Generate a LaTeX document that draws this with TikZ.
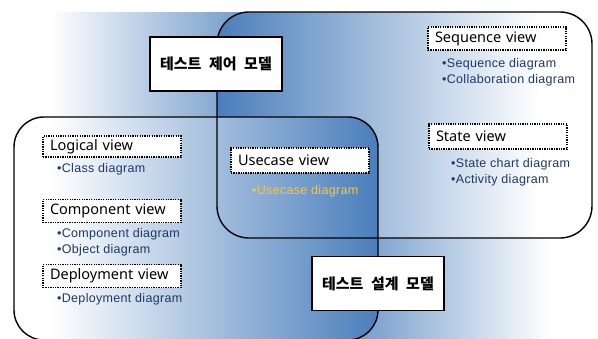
\documentclass[tikz,border=0pt]{standalone}
\usepackage{fontspec}
\setmainfont{Noto Sans}
\newfontfamily\kr[WordSpace=2.2]{Noto Sans CJK KR}
\newfontfamily\lib[LetterSpace=2.5]{Liberation Sans}
\definecolor{ppblue}{RGB}{74,126,187}
\definecolor{navy}{RGB}{31,56,100}
\definecolor{gold}{RGB}{245,200,70}
\tikzset{
  boxline/.style={draw=black, line width=1.4pt},
  modellabel/.style={draw=black, line width=1.6pt, fill=white, minimum width=132pt, minimum height=54pt, inner sep=0pt, font=\kr\bfseries\fontsize{15}{17}\selectfont},
  viewbox/.style={draw=black, line width=1.3pt, dash pattern=on 1.3pt off 1.1pt, fill=white, text width=124pt, inner xsep=7pt, inner ysep=0pt, align=left, minimum height=23pt, font=\fontsize{14.5}{16}\selectfont},
  bul/.style={anchor=west, inner sep=0pt, text=navy, font=\lib\fontsize{12.5}{15}\selectfont},
}
\begin{document}
\begin{tikzpicture}[x=1pt,y=-1pt]
\useasboundingbox (0,0) rectangle (598,338);
\clip (0,0) rectangle (598,338);
% background gradient
\shade[left color=white, right color=ppblue] (50,12) rectangle (300,338);
\shade[left color=ppblue, right color=white] (300,12) rectangle (550,338);
% top-right box fill
\begin{scope}
  \clip[rounded corners=32pt] (217,12) rectangle (592,238);
  \shade[left color=ppblue, right color=white] (217,12) rectangle (540,238);
  \fill[white] (540,12) rectangle (592,238);
\end{scope}
% bottom-left box fill
\begin{scope}
  \clip[rounded corners=30pt] (14,117) rectangle (378,340);
  \fill[white] (14,117) rectangle (50,340);
  \shade[left color=white, right color=ppblue] (50,117) rectangle (378,340);
\end{scope}
% outlines
\draw[boxline, rounded corners=32pt] (217,12) rectangle (592,238);
\draw[boxline, rounded corners=30pt] (14,117) rectangle (378,340);
% model labels
\node[modellabel] (ctrl) at (216,64) {테스트 제어 모델};
\node[modellabel] (design) at (378,283.5) {테스트 설계 모델};
% views
\node[viewbox, minimum height=21pt] (logical) at (112,146.5) {Logical view};
\node[viewbox] (component) at (112,211) {Component view};
\node[viewbox] (deployment) at (112,276) {Deployment view};
\node[viewbox, minimum height=25pt] (usecase) at (300,160.5) {Usecase view};
\node[viewbox] (sequence) at (497,38.5) {Sequence view};
\node[viewbox, minimum height=25pt] (state) at (498,136.5) {State view};
% bullets
\node[bul] (b1) at (57,169) {•Class diagram};
\node[bul] (b2) at (57,234) {•Component diagram};
\node[bul] (b3) at (57,250) {•Object diagram};
\node[bul] (b4) at (57,299) {•Deployment diagram};
\node[bul, text=gold] (b5) at (252,191) {•Usecase diagram};
\node[bul] (b6) at (442,64) {•Sequence diagram};
\node[bul] (b7) at (442,80) {•Collaboration diagram};
\node[bul] (b8) at (451,164) {•State chart diagram};
\node[bul] (b9) at (451,180) {•Activity diagram};
\end{tikzpicture}
\end{document}
